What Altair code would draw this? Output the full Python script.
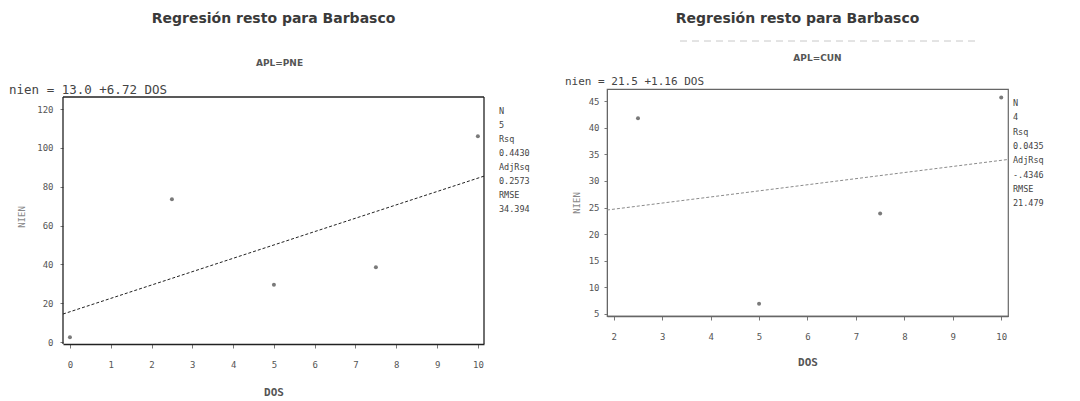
import altair as alt
import pandas as pd

# ---- data ----
title_text = "Regresión resto para Barbasco"

pne_dos = [0, 2.5, 5, 7.5, 10]
pne_nien = [2.5, 73.5, 29.5, 38.5, 106]
pne_group = "APL=PNE"
pne_eq = "nien = 13.0 +6.72 DOS"
pne_stats = ["N", "5", "Rsq", "0.4430", "AdjRsq", "0.2573", "RMSE", "34.394"]
pne_xticks = [0, 1, 2, 3, 4, 5, 6, 7, 8, 9, 10]
pne_yticks = [0, 20, 40, 60, 80, 100, 120]

cun_dos = [2.5, 5, 7.5, 10]
cun_nien = [41.8, 6.9, 23.9, 45.7]
cun_group = "APL=CUN"
cun_eq = "nien = 21.5 +1.16 DOS"
cun_stats = ["N", "4", "Rsq", "0.0435", "AdjRsq", "-.4346", "RMSE", "21.479"]
cun_xticks = [2, 3, 4, 5, 6, 7, 8, 9, 10]
cun_yticks = [5, 10, 15, 20, 25, 30, 35, 40, 45]

MONO = "DejaVu Sans Mono"
TITLE_FONT = "DejaVu Sans"


def panel(dos, nien, group, eq, stats, xticks, yticks, xdom, ydom, w, h,
          line_color, frame_color, title_dy, eq_dx, eq_dy, eq_size, sub_dx, sub_dy,
          stats_dx, stats_dy, stats_lh, xlab_pad, xtitle_pad, ylab_pad, ytitle_pad,
          title_dx, frame_top=None, artifact=False):
    df = pd.DataFrame({"DOS": dos, "NIEN": nien})
    base = alt.Chart(df)
    own_frame = frame_top is not None
    x = alt.X("DOS:Q", scale=alt.Scale(domain=xdom, nice=False, zero=False),
              axis=alt.Axis(values=xticks, title="DOS", grid=False, tickSize=4,
                            labelPadding=xlab_pad, titlePadding=xtitle_pad,
                            labelFont=MONO, labelFontSize=9, labelColor="#555",
                            titleFont=MONO, titleFontSize=11, titleFontWeight="bold",
                            titleColor="#555", domainColor=frame_color, domainWidth=1.3,
                            tickColor="#777", labelFlush=False))
    y = alt.Y("NIEN:Q", scale=alt.Scale(domain=ydom, nice=False, zero=False),
              axis=alt.Axis(values=yticks, title="NIEN", grid=False, tickSize=3,
                            labelPadding=ylab_pad, titlePadding=ytitle_pad,
                            labelFont=MONO, labelFontSize=9, labelColor="#555",
                            titleFont=MONO, titleFontSize=9, titleFontWeight="normal",
                            titleColor="#888", domain=not own_frame,
                            domainColor=frame_color, tickColor="#777", labelFlush=False))
    pts = base.mark_point(filled=True, size=16, color="#7a7a7a", opacity=1).encode(x=x, y=y)
    reg = base.transform_regression("DOS", "NIEN", extent=xdom).mark_line(
        color=line_color, strokeWidth=1, strokeDash=[3, 2]).encode(x=x, y=y)

    one = pd.DataFrame({"k": [0]})
    tchart = alt.Chart(one)
    ttl = tchart.mark_text(font=TITLE_FONT, fontSize=14, fontWeight="bold", color="#3a3a3a",
                           align="center", baseline="middle").encode(
        x=alt.value(w / 2 + title_dx), y=alt.value(title_dy), text=alt.value(title_text))
    sub = tchart.mark_text(font=TITLE_FONT, fontSize=9, fontWeight="bold", color="#555",
                           align="center", baseline="middle").encode(
        x=alt.value(w / 2 + sub_dx), y=alt.value(sub_dy), text=alt.value(group))
    eqt = tchart.mark_text(font=MONO, fontSize=eq_size, color="#444", align="left",
                           baseline="middle").encode(
        x=alt.value(eq_dx), y=alt.value(eq_dy), text=alt.value(eq))
    st = tchart.mark_text(font=MONO, fontSize=8.5, color="#444", align="left",
                          baseline="middle", lineHeight=stats_lh).encode(
        x=alt.value(stats_dx), y=alt.value(stats_dy), text=alt.value(stats))
    layers = [ttl, sub, eqt, st, reg, pts]
    if own_frame:
        fr = dict(color=frame_color, strokeWidth=1.3)
        top = tchart.mark_rule(**fr).encode(
            x=alt.value(0), x2=alt.value(w), y=alt.value(frame_top))
        lft = tchart.mark_rule(**fr).encode(
            x=alt.value(0), y=alt.value(frame_top), y2=alt.value(h))
        rgt = tchart.mark_rule(**fr).encode(
            x=alt.value(w), y=alt.value(frame_top), y2=alt.value(h))
        layers += [top, lft, rgt]
    if artifact:
        art = tchart.mark_rule(color="#c8c8c8", strokeDash=[7, 5], strokeWidth=1).encode(
            x=alt.value(73), x2=alt.value(368), y=alt.value(-48))
        layers.append(art)
    lc = alt.layer(*layers).properties(width=w, height=h)
    if own_frame:
        lc = lc.properties(view=alt.ViewBackground(stroke="transparent"))
    return lc


# left plot area starts 8px above its drawn frame so both panels share one top
left = panel(pne_dos, pne_nien, pne_group, pne_eq, pne_stats, pne_xticks, pne_yticks,
             xdom=[-0.17, 10.15], ydom=[-1, 130.3], w=421, h=255,
             line_color="#222", frame_color="#222",
             title_dy=-70, eq_dx=-54, eq_dy=1, eq_size=12.5, sub_dx=6, sub_dy=-26,
             stats_dx=436, stats_dy=22, stats_lh=14,
             xlab_pad=12, xtitle_pad=17, ylab_pad=7, ytitle_pad=10, title_dx=0,
             frame_top=8)

right = panel(cun_dos, cun_nien, cun_group, cun_eq, cun_stats, cun_xticks, cun_yticks,
              xdom=[1.86, 10.14], ydom=[4.6, 47.3], w=401, h=227,
              line_color="#8a8a8a", frame_color="#666",
              title_dy=-70, eq_dx=-42, eq_dy=-7, eq_size=11, sub_dx=10, sub_dy=-31,
              stats_dx=406, stats_dy=14, stats_lh=14.3,
              xlab_pad=12, xtitle_pad=15, ylab_pad=5, ytitle_pad=7, title_dx=-10,
              artifact=True)

chart = alt.hconcat(left, right, spacing=33).properties(
    padding={"left": 0, "top": 3, "right": 0, "bottom": 0}, background="white"
).configure_view(stroke="#666", strokeWidth=1.2)

chart.save("out.html", embed_options={"renderer": "svg", "actions": False})
